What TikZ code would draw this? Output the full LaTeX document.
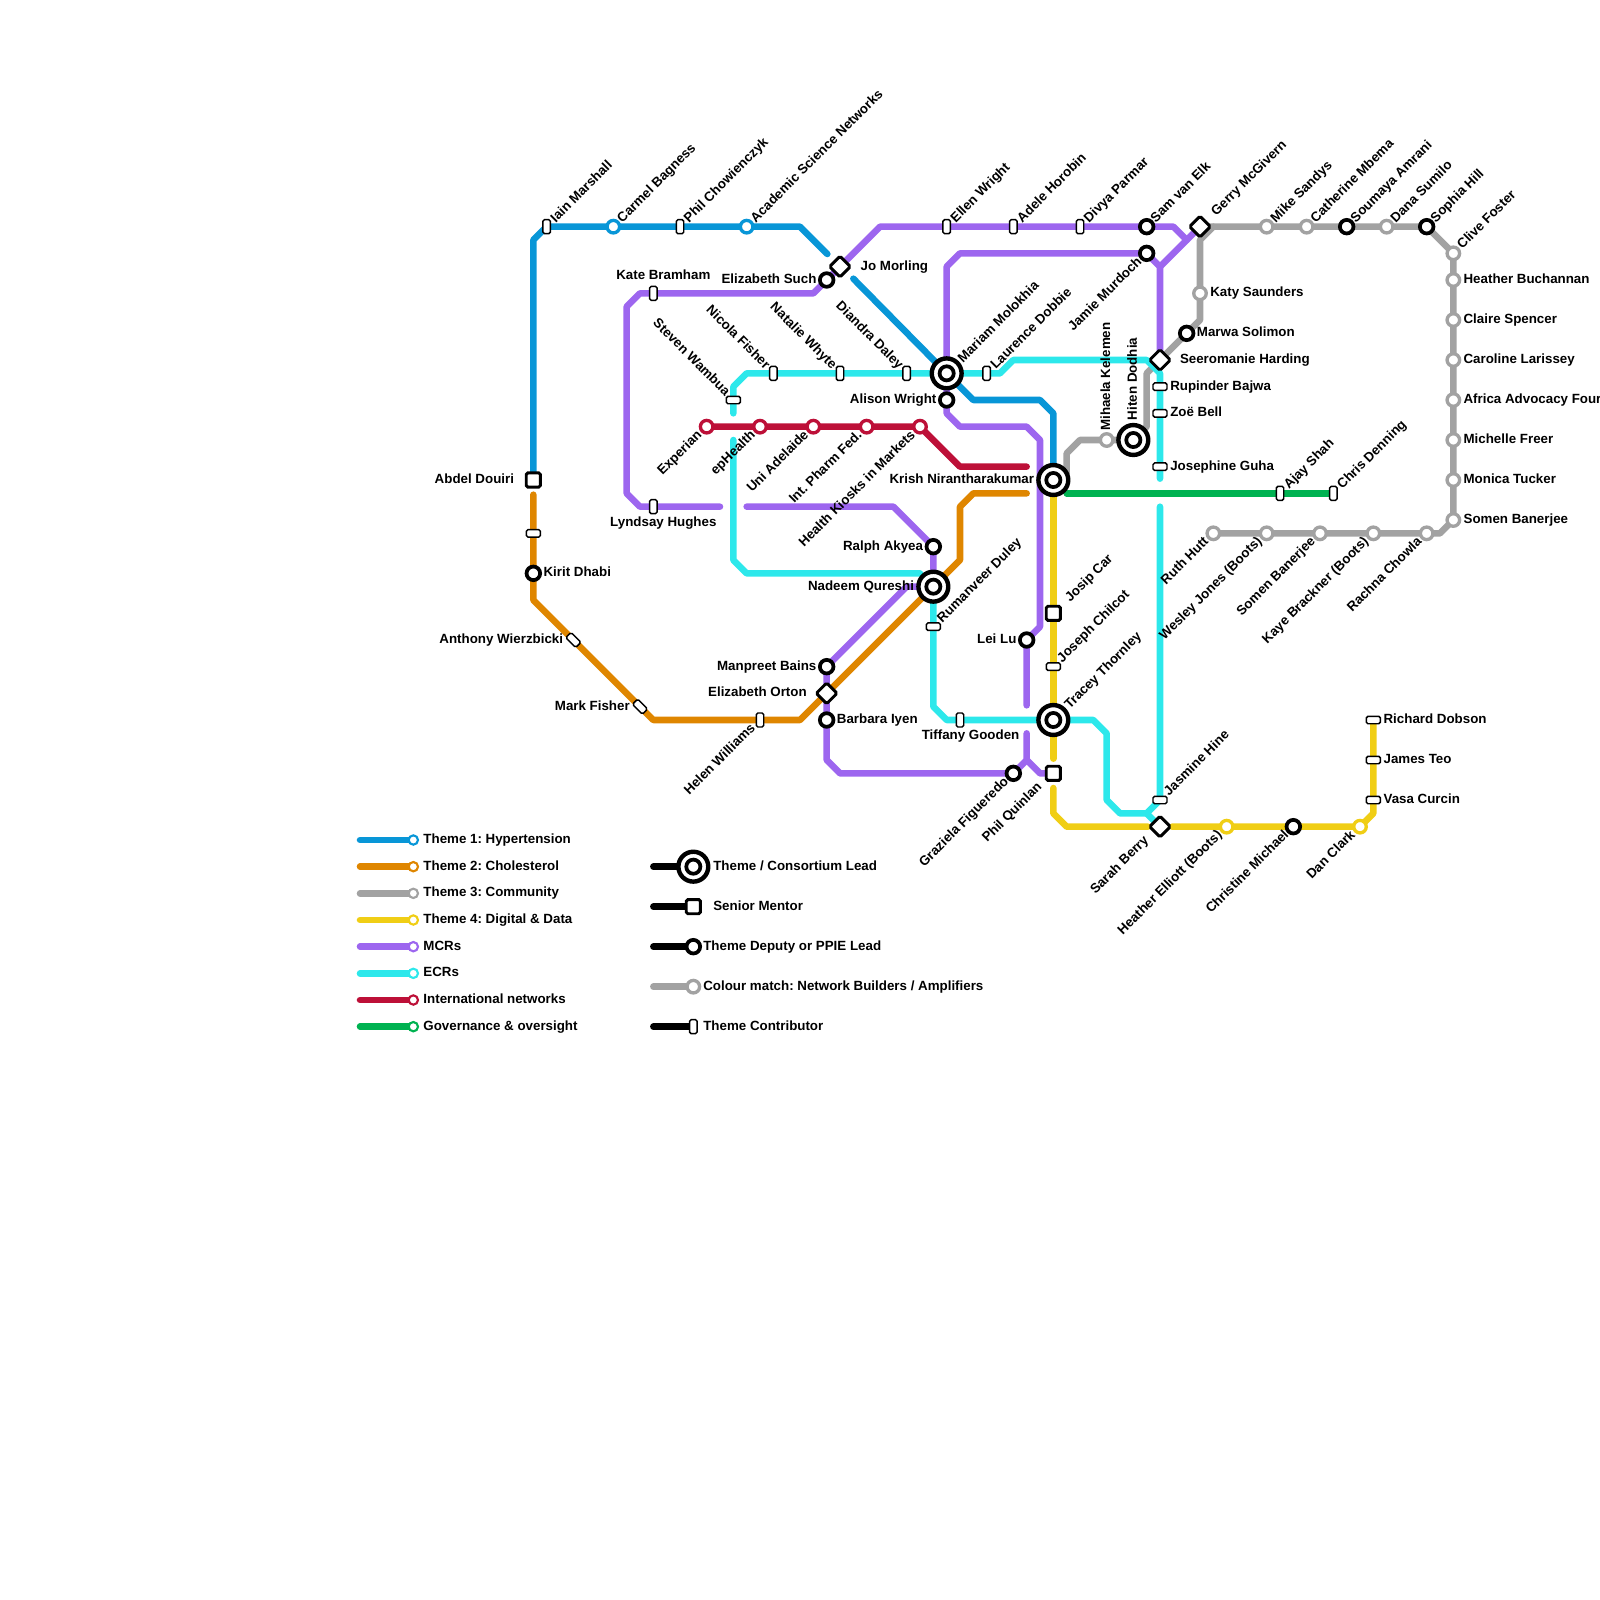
\documentclass[tikz,border=0pt]{standalone}
\usepackage{fontspec}
\setmainfont{Liberation Sans}
\usetikzlibrary{calc}
\pgfdeclarelayer{lines}
\pgfsetlayers{lines,main}
\definecolor{cBlue}{HTML}{0896D7}
\definecolor{cOrange}{HTML}{DF8600}
\definecolor{cGray}{HTML}{A2A2A2}
\definecolor{cYellow}{HTML}{F0CE15}
\definecolor{cPurple}{HTML}{9D66EF}
\definecolor{cCyan}{HTML}{2DE8EB}
\definecolor{cRed}{HTML}{BD1038}
\definecolor{cGreen}{HTML}{00B251}
\tikzset{
  rail/.style={line width=4.9pt,line cap=round,line join=round},
  ring/.style={circle,draw=#1,fill=white,line width=2.5pt,minimum size=9.4pt,inner sep=0pt,outer sep=0pt},
  bring/.style={circle,draw=black,fill=white,line width=2.8pt,minimum size=10.2pt,inner sep=0pt,outer sep=0pt},
  sqst/.style={rectangle,draw=black,fill=white,line width=2.2pt,rounded corners=1.2pt,minimum size=10.6pt,inner sep=0pt,outer sep=0pt},
  dmst/.style={sqst,rotate=45,minimum size=11pt},
  tickv/.style={rectangle,draw=black,fill=white,line width=1.1pt,rounded corners=1.2pt,minimum width=5.6pt,minimum height=10.5pt,inner sep=0pt,outer sep=0pt},
  tickh/.style={tickv,rotate=90},
  tickd/.style={tickv,rotate=45},
  bigst/.style={circle,draw=black,fill=white,line width=3.3pt,minimum size=22.4pt,inner sep=0pt,outer sep=0pt},
  bigin/.style={circle,draw=black,fill=white,line width=2.8pt,minimum size=10.6pt,inner sep=0pt,outer sep=0pt},
  keydot/.style={circle,draw=#1,fill=white,line width=1.6pt,minimum size=7pt,inner sep=0pt,outer sep=0pt},
  txt/.style={font=\bfseries\fontsize{10}{10}\selectfont\frenchspacing,text=black,inner sep=0pt,outer sep=0pt,text height=7.2pt,text depth=2pt},
  lblR/.style={txt,anchor=west},
  lblL/.style={txt,anchor=east},
  lblNE/.style={txt,rotate=45,anchor=west},
  lblSW/.style={txt,rotate=45,anchor=east},
  lblNW/.style={txt,rotate=-45,anchor=east},
  lblUp/.style={txt,rotate=90,anchor=west},
}
\begin{document}
\begin{tikzpicture}[x=10pt,y=-10pt]
\useasboundingbox (0,0) rectangle (120,120);
% --- stations
% Blue
\node[sqst] (abdel) at (40,36) {};
\node[tickv] (iain) at (41,17) {};
\node[ring=cBlue] (carmel) at (46,17) {};
\node[tickv] (philc) at (51,17) {};
\node[ring=cBlue] (acad) at (56,17) {};
% Orange
\node[tickh] (otick) at (40,40) {};
\node[bring] (kirit) at (40,43) {};
\node[tickd] (anthony) at (43,48) {};
\node[tickd] (markf) at (48,53) {};
\node[tickv] (helen) at (57,54) {};
\node[dmst] (orton) at (62,52) {};
% Purple
\node[tickv] (kate) at (49,22) {};
\node[tickv] (lyndsay) at (49,38) {};
\node[bring] (esuch) at (62,21) {};
\node[dmst] (jo) at (63,20) {};
\node[tickv] (ellen) at (71,17) {};
\node[tickv] (adele) at (76,17) {};
\node[tickv] (divya) at (81,17) {};
\node[bring] (sam) at (86,17) {};
\node[bring] (jamie) at (86,19) {};
\node[bring] (alison) at (71,30) {};
\node[bring] (ralph) at (70,41) {};
\node[bring] (manpreet) at (62,50) {};
\node[bring] (barbara) at (62,54) {};
\node[bring] (leilu) at (77,48) {};
\node[bring] (graziela) at (76,58) {};
% Cyan
\node[tickh] (steven) at (55,30) {};
\node[tickv] (nicola) at (58,28) {};
\node[tickv] (natalie) at (63,28) {};
\node[tickv] (diandra) at (68,28) {};
\node[tickv] (laurence) at (74,28) {};
\node[dmst] (seero) at (87,27) {};
\node[tickh] (rupinder) at (87,29) {};
\node[tickh] (zoe) at (87,31) {};
\node[tickh] (josephine) at (87,35) {};
\node[tickh] (jasmine) at (87,60) {};
\node[tickh] (rumanveer) at (70,47) {};
\node[tickv] (tiffany) at (72,54) {};
% Red
\node[ring=cRed] (experian) at (53,32) {};
\node[ring=cRed] (ephealth) at (57,32) {};
\node[ring=cRed] (uni) at (61,32) {};
\node[ring=cRed] (intph) at (65,32) {};
\node[ring=cRed] (kiosks) at (69,32) {};
% Green
\node[tickv] (ajay) at (96,37) {};
\node[tickv] (chris) at (100,37) {};
% Gray
\node[dmst] (gerry) at (90,17) {};
\node[ring=cGray] (mike) at (95,17) {};
\node[ring=cGray] (catherine) at (98,17) {};
\node[bring] (soumaya) at (101,17) {};
\node[ring=cGray] (dana) at (104,17) {};
\node[bring] (sophia) at (107,17) {};
\node[ring=cGray] (clive) at (109,19) {};
\node[ring=cGray] (heatherb) at (109,21) {};
\node[ring=cGray] (claire) at (109,24) {};
\node[ring=cGray] (caroline) at (109,27) {};
\node[ring=cGray] (africa) at (109,30) {};
\node[ring=cGray] (michelle) at (109,33) {};
\node[ring=cGray] (monica) at (109,36) {};
\node[ring=cGray] (somenb) at (109,39) {};
\node[ring=cGray] (rachna) at (107,40) {};
\node[ring=cGray] (kaye) at (103,40) {};
\node[ring=cGray] (somenc) at (99,40) {};
\node[ring=cGray] (wesley) at (95,40) {};
\node[ring=cGray] (ruth) at (91,40) {};
\node[ring=cGray] (katy) at (90,22) {};
\node[bring] (marwa) at (89,25) {};
\node[ring=cGray] (mihaela) at (83,33) {};
% Yellow
\node[sqst] (josip) at (79,46) {};
\node[tickh] (joseph) at (79,50) {};
\node[sqst] (phil) at (79,58) {};
\node[dmst] (sarah) at (87,62) {};
\node[ring=cYellow] (heathere) at (92,62) {};
\node[bring] (christine) at (97,62) {};
\node[ring=cYellow] (danc) at (102,62) {};
\node[tickh] (vasa) at (103,60) {};
\node[tickh] (james) at (103,57) {};
\node[tickh] (richard) at (103,54) {};
% Big stations
\node[bigst] (mariam) at (71,28) {}; \node[bigin] (mariamI) at (71,28) {};
\node[bigst] (nadeem) at (70,44) {}; \node[bigin] (nadeemI) at (70,44) {};
\node[bigst] (krish) at (79,36) {}; \node[bigin] (krishI) at (79,36) {};
\node[bigst] (tracey) at (79,54) {}; \node[bigin] (traceyI) at (79,54) {};
\node[bigst] (hiten) at (85,33) {}; \node[bigin] (hitenI) at (85,33) {};
% --- lines
\begin{pgfonlayer}{lines}
% Blue
\coordinate (bA) at (40,18); \coordinate (bB) at (60,17); \coordinate (bC) at (62.05,19.05);
\coordinate (bD) at (64,20.9); \coordinate (bE) at (73,30); \coordinate (bF) at (78,30); \coordinate (bG) at (79,31);
\draw[rail,cBlue] (abdel.center) -- (bA) -- (iain.center) -- (bB) -- (bC);
\draw[rail,cBlue] (bD) -- (mariam.center) -- (bE) -- (bF) -- (bG) -- (krish.center);
% Orange
\coordinate (oA) at (40,37.1); \coordinate (oB) at (40,45); \coordinate (oC) at (49,54); \coordinate (oD) at (60,54);
\coordinate (oE) at (72,42); \coordinate (oF) at (72,38); \coordinate (oG) at (73,37); \coordinate (oH) at (77,37);
\draw[rail,cOrange] (oA) -- (oB) -- (oC) -- (oD) -- (oE) -- (oF) -- (oG) -- (oH);
% Gray
\coordinate (gA) at (91,17); \coordinate (gB) at (90,18); \coordinate (gC) at (90,24);
\coordinate (gD) at (86,28); \coordinate (gE) at (86,32); \coordinate (gF) at (81,33); \coordinate (gG) at (80,34);
\coordinate (gH) at (80,35.5); \coordinate (gI) at (108,40);
\draw[rail,cGray] (gerry.center) -- (sophia.center) -- (clive.center) -- (somenb.center) -- (gI) -- (ruth.center);
\draw[rail,cGray] (gA) -- (gB) -- (gC) -- (seero.center) -- (gD) -- (gE) -- (hiten.center) -- (gF) -- (gG) -- (gH);
% Purple
\coordinate (pA) at (54,38); \coordinate (pB) at (48,38); \coordinate (pC) at (47,37); \coordinate (pD) at (47,23);
\coordinate (pE) at (48,22); \coordinate (pF) at (61,22); \coordinate (pG) at (66,17); \coordinate (pH) at (88,17);
\coordinate (pI) at (89,18);
\draw[rail,cPurple] (pA) -- (pB) -- (pC) -- (pD) -- (pE) -- (pF) -- (pG) -- (pH) -- (pI);
\coordinate (pJ) at (71,20); \coordinate (pK) at (72,19); \coordinate (pL) at (87,20);
\draw[rail,cPurple] (mariam.center) -- (pJ) -- (pK) -- (jamie.center) -- (pL) -- (seero.center);
\draw[rail,cPurple] (pL) -- (gerry.center);
\coordinate (pM) at (71,31); \coordinate (pN) at (72,32); \coordinate (pO) at (77,32); \coordinate (pP) at (78,33);
\coordinate (pQ) at (78,47); \coordinate (pR) at (77,52.9);
\draw[rail,cPurple] (mariam.center) -- (pM) -- (pN) -- (pO) -- (pP) -- (pQ) -- (leilu.center) -- (pR);
\coordinate (pS) at (77,55); \coordinate (pT) at (77,57); \coordinate (pU) at (63,58); \coordinate (pV) at (62,57);
\coordinate (pW) at (68,44);
\draw[rail,cPurple] (pS) -- (pT) -- (graziela.center) -- (pU) -- (pV) -- (manpreet.center) -- (pW) -- (nadeem.center);
\coordinate (pX) at (78,58);
\draw[rail,cPurple] (pT) -- (pX) -- (phil.center);
\coordinate (pY) at (56,38); \coordinate (pZ) at (67,38);
\draw[rail,cPurple] (pY) -- (pZ) -- (ralph.center) -- (nadeem.center);
% Yellow
\coordinate (yA) at (79,56.9); \coordinate (yB) at (79,59.1); \coordinate (yC) at (79,61); \coordinate (yD) at (80,62);
\coordinate (yE) at (86.1,62); \coordinate (yF) at (87.9,62); \coordinate (yG) at (103,61);
\draw[rail,cYellow] (krish.center) -- (yA);
\draw[rail,cYellow] (yB) -- (yC) -- (yD) -- (yE);
\draw[rail,cYellow] (yF) -- (danc.center) -- (yG) -- (richard.center);
% Cyan
\coordinate (cA) at (55,31); \coordinate (cB) at (55,29); \coordinate (cC) at (56,28); \coordinate (cD) at (75,28);
\coordinate (cE) at (76,27); \coordinate (cF) at (86,27); \coordinate (cG) at (87,28); \coordinate (cH) at (87,35.9);
\draw[rail,cCyan] (cA) -- (cB) -- (cC) -- (cD) -- (cE) -- (cF) -- (cG) -- (cH);
\coordinate (cI) at (87,38); \coordinate (cJ) at (86,61); \coordinate (cK) at (84,61); \coordinate (cL) at (83,60);
\coordinate (cM) at (83,55); \coordinate (cN) at (82,54); \coordinate (cO) at (71,54); \coordinate (cP) at (70,53);
\draw[rail,cCyan] (cI) -- (jasmine.center) -- (cJ) -- (cK) -- (cL) -- (cM) -- (cN) -- (cO) -- (cP) -- (nadeem.center);
\draw[rail,cCyan] (cJ) -- (sarah.center);
\coordinate (cQ) at (55,33); \coordinate (cR) at (55,42); \coordinate (cS) at (56,43); \coordinate (cT) at (69,43);
\draw[rail,cCyan] (cQ) -- (cR) -- (cS) -- (cT);
% Red
\coordinate (rA) at (72,35); \coordinate (rB) at (77,35);
\draw[rail,cRed] (experian.center) -- (kiosks.center) -- (rA) -- (rB);
% Green
\coordinate (grA) at (80,37);
\draw[rail,cGreen] (grA) -- (chris.center);
\end{pgfonlayer}
% --- labels
\node[lblNE] (tIain) at ($(iain.center)+(.5,-.45)$) {Iain Marshall};
\node[lblNE] (tCarmel) at ($(carmel.center)+(.5,-.45)$) {Carmel Bagness};
\node[lblNE] (tPhilc) at ($(philc.center)+(.5,-.45)$) {Phil Chowienczyk};
\node[lblNE] (tAcad) at ($(acad.center)+(.5,-.45)$) {Academic Science Networks};
\node[lblNE] (tEllen) at ($(ellen.center)+(.5,-.45)$) {Ellen Wright};
\node[lblNE] (tAdele) at ($(adele.center)+(.5,-.45)$) {Adele Horobin};
\node[lblNE] (tDivya) at ($(divya.center)+(.5,-.45)$) {Divya Parmar};
\node[lblNE] (tSam) at ($(sam.center)+(.5,-.45)$) {Sam van Elk};
\node[lblNE] (tGerry) at ($(gerry.center)+(1.05,-.95)$) {Gerry McGivern};
\node[lblNE] (tMike) at ($(mike.center)+(.5,-.45)$) {Mike Sandys};
\node[lblNE] (tCatherine) at ($(catherine.center)+(.5,-.45)$) {Catherine Mbema};
\node[lblNE] (tSoumaya) at ($(soumaya.center)+(.5,-.45)$) {Soumaya Amrani};
\node[lblNE] (tDana) at ($(dana.center)+(.5,-.45)$) {Dana Sumilo};
\node[lblNE] (tSophia) at ($(sophia.center)+(.5,-.45)$) {Sophia Hill};
\node[lblNE] (tClive) at ($(clive.center)+(.5,-.45)$) {Clive Foster};
\node[lblNE] (tMariam) at ($(mariam.center)+(1.05,-.95)$) {Mariam Molokhia};
\node[lblNE] (tLaurence) at ($(laurence.center)+(.5,-.45)$) {Laurence Dobbie};
\node[lblNE] (tAjay) at ($(ajay.center)+(.5,-.45)$) {Ajay Shah};
\node[lblNE] (tChris) at ($(chris.center)+(.5,-.45)$) {Chris Denning};
\node[lblNE] (tRumanveer) at ($(rumanveer.center)+(.5,-.45)$) {Rumanveer Duley};
\node[lblNE] (tJosip) at ($(josip.center)+(1.1,-1.0)$) {Josip Car};
\node[lblNE] (tJoseph) at ($(joseph.center)+(.5,-.45)$) {Joseph Chilcot};
\node[lblNE] (tTracey) at ($(tracey.center)+(1.05,-.95)$) {Tracey Thornley};
\node[lblNE] (tJasmine) at ($(jasmine.center)+(.5,-.45)$) {Jasmine Hine};
\node[lblNW] (tSteven) at ($(steven.center)+(-.45,-.45)$) {Steven Wambua};
\node[lblNW] (tNicola) at ($(nicola.center)+(-.45,-.45)$) {Nicola Fisher};
\node[lblNW] (tNatalie) at ($(natalie.center)+(-.45,-.45)$) {Natalie Whyte};
\node[lblNW] (tDiandra) at ($(diandra.center)+(-.45,-.45)$) {Diandra Daley};
\node[lblSW] (tExperian) at ($(experian.center)+(-.5,.5)$) {Experian};
\node[lblSW] (tEphealth) at ($(ephealth.center)+(-.5,.5)$) {epHealth};
\node[lblSW] (tUni) at ($(uni.center)+(-.5,.5)$) {Uni Adelaide};
\node[lblSW] (tIntph) at ($(intph.center)+(-.5,.5)$) {Int. Pharm Fed.};
\node[lblSW] (tKiosks) at ($(kiosks.center)+(-.5,.5)$) {Health Kiosks in Markets};
\node[lblSW] (tJamie) at ($(jamie.center)+(-.5,.5)$) {Jamie Murdoch};
\node[lblSW] (tHelen) at ($(helen.center)+(-.5,.5)$) {Helen Williams};
\node[lblSW] (tGraziela) at ($(graziela.center)+(-.5,.5)$) {Graziela Figueredo};
\node[lblSW] (tPhil) at ($(phil.center)+(-1.0,.9)$) {Phil Quinlan};
\node[lblSW] (tSarah) at ($(sarah.center)+(-1.0,.9)$) {Sarah Berry};
\node[lblSW] (tHeathere) at ($(heathere.center)+(-.5,.5)$) {Heather Elliott (Boots)};
\node[lblSW] (tChristine) at ($(christine.center)+(-.5,.5)$) {Christine Michael};
\node[lblSW] (tDanc) at ($(danc.center)+(-.5,.5)$) {Dan Clark};
\node[lblSW] (tRuth) at ($(ruth.center)+(-.5,.5)$) {Ruth Hutt};
\node[lblSW] (tWesley) at ($(wesley.center)+(-.5,.5)$) {Wesley Jones (Boots)};
\node[lblSW] (tSomenc) at ($(somenc.center)+(-.5,.5)$) {Somen Banerjee};
\node[lblSW] (tKaye) at ($(kaye.center)+(-.5,.5)$) {Kaye Brackner (Boots)};
\node[lblSW] (tRachna) at ($(rachna.center)+(-.5,.5)$) {Rachna Chowla};
\node[lblUp] (tMihaela) at ($(mihaela.center)+(0,-.7)$) {Mihaela Kelemen};
\node[lblUp] (tHiten) at ($(hiten.center)+(0,-1.5)$) {Hiten Dodhia};
\node[lblR] (tKirit) at ($(kirit.center)+(.77,0)$) {Kirit Dhabi};
\node[lblR] (tJo) at ($(jo.center)+(1.55,0)$) {Jo Morling};
\node[lblR] (tKaty) at ($(katy.center)+(.77,0)$) {Katy Saunders};
\node[lblR] (tMarwa) at ($(marwa.center)+(.77,0)$) {Marwa Solimon};
\node[lblR] (tSeero) at ($(seero.center)+(1.5,0)$) {Seeromanie Harding};
\node[lblR] (tRupinder) at ($(rupinder.center)+(.77,0)$) {Rupinder Bajwa};
\node[lblR] (tZoe) at ($(zoe.center)+(.77,0)$) {Zoë Bell};
\node[lblR] (tJosephine) at ($(josephine.center)+(.77,0)$) {Josephine Guha};
\node[lblR] (tHeatherb) at ($(heatherb.center)+(.77,0)$) {Heather Buchannan};
\node[lblR] (tClaire) at ($(claire.center)+(.77,0)$) {Claire Spencer};
\node[lblR] (tCaroline) at ($(caroline.center)+(.77,0)$) {Caroline Larissey};
\node[lblR] (tAfrica) at ($(africa.center)+(.77,0)$) {Africa Advocacy Four};
\node[lblR] (tMichelle) at ($(michelle.center)+(.77,0)$) {Michelle Freer};
\node[lblR] (tMonica) at ($(monica.center)+(.77,0)$) {Monica Tucker};
\node[lblR] (tSomenb) at ($(somenb.center)+(.77,0)$) {Somen Banerjee};
\node[lblR] (tBarbara) at ($(barbara.center)+(.77,0)$) {Barbara Iyen};
\node[lblR] (tRichard) at ($(richard.center)+(.77,0)$) {Richard Dobson};
\node[lblR] (tJames) at ($(james.center)+(.77,0)$) {James Teo};
\node[lblR] (tVasa) at ($(vasa.center)+(.77,0)$) {Vasa Curcin};
\node[lblL] (tAbdel) at ($(abdel.center)+(-1.45,0)$) {Abdel Douiri};
\node[lblL] (tEsuch) at ($(esuch.center)+(-.77,0)$) {Elizabeth Such};
\node[lblL] (tAlison) at ($(alison.center)+(-.77,0)$) {Alison Wright};
\node[lblL] (tRalph) at ($(ralph.center)+(-.77,0)$) {Ralph Akyea};
\node[lblL] (tNadeem) at ($(nadeem.center)+(-1.45,0)$) {Nadeem Qureshi};
\node[lblL] (tKrish) at ($(krish.center)+(-1.45,0)$) {Krish Nirantharakumar};
\node[lblL] (tManpreet) at ($(manpreet.center)+(-.77,0)$) {Manpreet Bains};
\node[lblL] (tOrton) at ($(orton.center)+(-1.5,0)$) {Elizabeth Orton};
\node[lblL] (tAnthony) at ($(anthony.center)+(-.77,0)$) {Anthony Wierzbicki};
\node[lblL] (tMarkf) at ($(markf.center)+(-.77,0)$) {Mark Fisher};
\node[lblL] (tLeilu) at ($(leilu.center)+(-.77,0)$) {Lei Lu};
\node[lblL] (tTiffany) at ($(tiffany.center)+(4.45,1.2)$) {Tiffany Gooden};
\node[txt,anchor=center] (tKate) at ($(kate.center)+(.75,-1.3)$) {Kate Bramham};
\node[txt,anchor=center] (tLyndsay) at ($(lyndsay.center)+(.75,1.2)$) {Lyndsay Hughes};
% --- legend, themes
\foreach \nm/\col/\yy/\lab in {
  kA/cBlue/63/{Theme 1: Hypertension},
  kB/cOrange/65/{Theme 2: Cholesterol},
  kC/cGray/67/{Theme 3: Community},
  kD/cYellow/69/{Theme 4: Digital \& Data},
  kE/cPurple/71/{MCRs},
  kF/cCyan/73/{ECRs},
  kG/cRed/75/{International networks},
  kH/cGreen/77/{Governance \& oversight}}{
  \node[keydot=\col] (\nm) at (31,\yy) {};
  \coordinate (\nm s) at (27,\yy);
  \begin{pgfonlayer}{lines}\draw[rail,\col] (\nm s) -- (\nm.center);\end{pgfonlayer}
  \node[lblR] (\nm t) at (31.76,\yy) {\lab};
}
% --- legend, station types
\node[bigst] (mA) at (52,65) {}; \node[bigin] (mAI) at (52,65) {};
\node[sqst] (mB) at (52,68) {};
\node[bring] (mC) at (52,71) {};
\node[ring=cGray] (mD) at (52,74) {};
\node[tickv] (mE) at (52,77) {};
\coordinate (mAs) at (49,65); \coordinate (mBs) at (49,68); \coordinate (mCs) at (49,71);
\coordinate (mDs) at (49,74); \coordinate (mEs) at (49,77);
\begin{pgfonlayer}{lines}
\draw[rail,black] (mAs) -- (mA.center);
\draw[rail,black] (mBs) -- (mB.center);
\draw[rail,black] (mCs) -- (mC.center);
\draw[rail,cGray] (mDs) -- (mD.center);
\draw[rail,black] (mEs) -- (mE.center);
\end{pgfonlayer}
\node[lblR] (mAt) at (53.5,65) {Theme / Consortium Lead};
\node[lblR] (mBt) at (53.5,68) {Senior Mentor};
\node[lblR] (mCt) at (52.75,71) {Theme Deputy or PPIE Lead};
\node[lblR] (mDt) at (52.75,74) {Colour match: Network Builders / Amplifiers};
\node[lblR] (mEt) at (52.75,77) {Theme Contributor};
\end{tikzpicture}
\end{document}
